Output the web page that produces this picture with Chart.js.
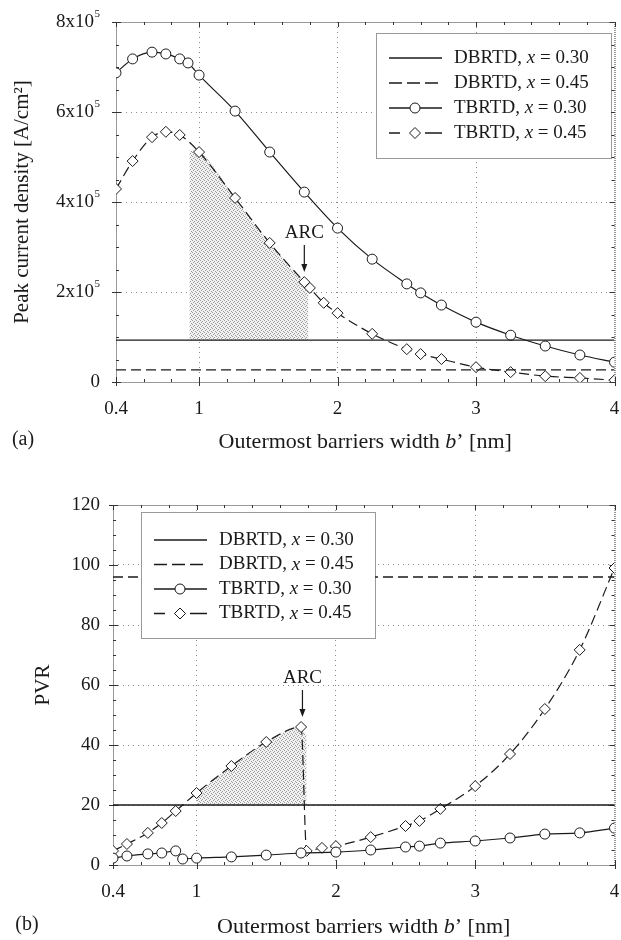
<!DOCTYPE html>
<html>
<head>
<meta charset="utf-8">
<script src="https://cdn.jsdelivr.net/npm/chart.js@4.4.0/dist/chart.umd.min.js"></script>
<style>
html, body { margin: 0; padding: 0; background: #fff; }
#wrap { position: relative; width: 621px; height: 940px; }
.panel { position: absolute; left: 0; width: 621px; height: 470px; }
</style>
</head>
<body>
<div id="wrap">
  <div class="panel" style="top:0"><canvas id="chartA" width="621" height="470"></canvas></div>
  <div class="panel" style="top:470px"><canvas id="chartB" width="621" height="470"></canvas></div>
</div>
<script>
// x axis: outermost barrier width b' (nm)
const bRange = [0.4, 4];
const xTicks = [0.4, 1, 2, 3, 4];
const xTickLabels = ['0.4', '1', '2', '3', '4'];

// legend text
const seriesNames = ['DBRTD', 'DBRTD', 'TBRTD', 'TBRTD'];
const seriesX = ['0.30', '0.45', '0.30', '0.45'];

// (a) peak current density, in units of 1e5 A/cm2
const jTicks = [0, 2, 4, 6, 8];
const jTickLabels = ['0', '2x10^5', '4x10^5', '6x10^5', '8x10^5'];
const jDb30 = 0.93;
const jDb45 = 0.27;
const bTb30a = [0.4, 0.52, 0.66, 0.76, 0.86, 0.92, 1.0, 1.26, 1.51, 1.76, 2.0, 2.25, 2.5, 2.6, 2.75, 3.0, 3.25, 3.5, 3.75, 4.0];
const jTb30 = [6.87, 7.18, 7.33, 7.29, 7.18, 7.09, 6.82, 6.02, 5.11, 4.22, 3.42, 2.73, 2.18, 1.98, 1.71, 1.33, 1.04, 0.80, 0.60, 0.44];
const bTb45a = [0.4, 0.52, 0.66, 0.76, 0.86, 1.0, 1.26, 1.51, 1.76, 1.8, 1.9, 2.0, 2.25, 2.5, 2.6, 2.75, 3.0, 3.25, 3.5, 3.75, 4.0];
const jTb45 = [4.29, 4.91, 5.44, 5.56, 5.49, 5.11, 4.09, 3.09, 2.22, 2.09, 1.76, 1.53, 1.07, 0.73, 0.62, 0.51, 0.33, 0.22, 0.13, 0.09, 0.04];
const shadeBa = [0.93, 1.0, 1.26, 1.51, 1.76, 1.79];
const shadeJa = [5.15, 5.11, 4.09, 3.09, 2.22, 2.12];
const arcA = [1.76, 2.22];

// (b) PVR
const pvrTicks = [0, 20, 40, 60, 80, 100, 120];
const pvrDb30 = 20;
const pvrDb45 = 96;
const bTb30b = [0.4, 0.5, 0.65, 0.75, 0.85, 0.9, 1.0, 1.25, 1.5, 1.75, 2.0, 2.25, 2.5, 2.6, 2.75, 3.0, 3.25, 3.5, 3.75, 4.0];
const pvrTb30 = [2.3, 3.0, 3.7, 4.0, 4.7, 2.0, 2.3, 2.7, 3.3, 4.0, 4.3, 5.0, 6.0, 6.3, 7.3, 8.0, 9.0, 10.3, 10.7, 12.3];
const bTb45b = [0.4, 0.5, 0.65, 0.75, 0.85, 1.0, 1.25, 1.5, 1.75, 1.79, 1.9, 2.0, 2.25, 2.5, 2.6, 2.75, 3.0, 3.25, 3.5, 3.75, 4.0];
const pvrTb45 = [4.7, 7.0, 10.7, 14.0, 18.0, 24.0, 33.0, 41.0, 46.0, 4.7, 5.7, 6.3, 9.3, 13.0, 14.7, 18.7, 26.3, 37.0, 52.0, 71.7, 99.0];
const shadeBb = [1.0, 1.25, 1.5, 1.75, 1.79];
const shadePb = [24.0, 33.0, 41.0, 46.0, 43.0];
const arcB = [1.76, 46.0];

const INK = '#1a1a1a';
const FONT = '"Liberation Serif", "DejaVu Serif", serif';
Chart.defaults.font.family = FONT;
Chart.defaults.color = INK;

function pts(xs, ys) {
    return xs.map((x, i) => ({ x: x, y: ys[i] }));
}

// 灰色点状填充
function stipple() {
    const c = document.createElement('canvas');
    c.width = 4; c.height = 4;
    const g = c.getContext('2d');
    g.fillStyle = '#f1f1f1';
    g.fillRect(0, 0, 4, 4);
    g.fillStyle = '#9c9c9c';
    g.fillRect(0, 0, 1, 1);
    g.fillRect(2, 1, 1, 1);
    g.fillRect(1, 2, 1, 1);
    g.fillRect(3, 3, 1, 1);
    return g.createPattern(c, 'repeat');
}

function buildDatasets(db30, db45, b30, v30, b45, v45, sb, sv) {
    return [
        { label: 'DBRTD, x = 0.30', data: pts(bRange, [db30, db30]), borderColor: INK, borderWidth: 1.3, pointRadius: 0 },
        { label: 'DBRTD, x = 0.45', data: pts(bRange, [db45, db45]), borderColor: INK, borderWidth: 1.3, borderDash: [10, 5], pointRadius: 0 },
        { label: 'TBRTD, x = 0.30', data: pts(b30, v30), borderColor: INK, borderWidth: 1.2,
          cubicInterpolationMode: 'monotone', pointStyle: 'circle', pointRadius: 5,
          pointBackgroundColor: '#fff', pointBorderColor: INK, pointBorderWidth: 1 },
        { label: 'TBRTD, x = 0.45', data: pts(b45, v45), borderColor: INK, borderWidth: 1.2, borderDash: [10, 5],
          cubicInterpolationMode: 'monotone', pointStyle: 'rectRot', pointRadius: 5.5,
          pointBackgroundColor: '#fff', pointBorderColor: INK, pointBorderWidth: 1 },
        { label: 'shade', data: pts(sb, sv), borderWidth: 0, borderColor: 'transparent', pointRadius: 0,
          cubicInterpolationMode: 'monotone', fill: { value: db30 }, backgroundColor: stipple(), order: 5 }
    ];
}

function drawMixed(ctx, parts, x, y, align, size) {
    // parts: [text, italic]
    const widths = parts.map(p => {
        ctx.font = (p[1] ? 'italic ' : '') + size + 'px ' + FONT;
        return ctx.measureText(p[0]).width;
    });
    const total = widths.reduce((s, w) => s + w, 0);
    let cx = align === 'center' ? x - total / 2 : (align === 'right' ? x - total : x);
    ctx.textAlign = 'left';
    ctx.textBaseline = 'middle';
    parts.forEach((p, i) => {
        ctx.font = (p[1] ? 'italic ' : '') + size + 'px ' + FONT;
        ctx.fillText(p[0], cx, y);
        cx += widths[i];
    });
}

const decor = {
    id: 'decor',
    beforeDatasetsDraw(chart, args, o) {
        const { ctx, chartArea: a, scales } = chart;
        ctx.save();
        ctx.strokeStyle = '#333';
        ctx.lineWidth = 1;
        ctx.setLineDash([1, 1]);
        ctx.strokeRect(a.left + 0.5, a.top + 0.5, a.right - a.left, a.bottom - a.top);
        ctx.setLineDash([]);
        ctx.beginPath();
        // x 轴刻度
        for (let k = 3; k <= 19; k++) {
            const px = Math.round(scales.x.getPixelForValue(k * 0.2)) + 0.5;
            ctx.moveTo(px, a.bottom); ctx.lineTo(px, a.bottom - 3);
            ctx.moveTo(px, a.top); ctx.lineTo(px, a.top + 3);
        }
        xTicks.forEach(v => {
            const px = Math.round(scales.x.getPixelForValue(v)) + 0.5;
            ctx.moveTo(px, a.bottom + 4); ctx.lineTo(px, a.bottom - 5);
            ctx.moveTo(px, a.top); ctx.lineTo(px, a.top + 5);
        });
        // y 轴刻度
        const y = scales.y;
        for (let v = y.min; v <= y.max + 1e-9; v += o.yMinor) {
            const py = Math.round(y.getPixelForValue(v)) + 0.5;
            ctx.moveTo(a.left, py); ctx.lineTo(a.left + 3, py);
            ctx.moveTo(a.right, py); ctx.lineTo(a.right - 3, py);
        }
        o.yMajor.forEach(v => {
            const py = Math.round(y.getPixelForValue(v)) + 0.5;
            ctx.moveTo(a.left - 4, py); ctx.lineTo(a.left + 5, py);
            ctx.moveTo(a.right, py); ctx.lineTo(a.right - 5, py);
        });
        ctx.stroke();
        // y 轴标签（带上标）
        ctx.fillStyle = INK;
        o.yMajor.forEach((v, i) => {
            const py = y.getPixelForValue(v);
            const parts = String(o.yLabels[i]).split('^');
            const rx = a.left - o.yPad;
            if (parts.length === 2) {
                ctx.font = '11px ' + FONT;
                const ew = ctx.measureText(parts[1]).width;
                ctx.textAlign = 'left';
                ctx.textBaseline = 'middle';
                ctx.fillText(parts[1], rx - ew, py - 8);
                drawMixed(ctx, [[parts[0], false]], rx - ew - 0.5, py, 'right', 19);
            } else {
                drawMixed(ctx, [[parts[0], false]], rx, py, 'right', 19);
            }
        });
        ctx.restore();
    },
    afterDatasetsDraw(chart, args, o) {
        const { ctx, chartArea: a, scales } = chart;
        ctx.save();
        // 图例
        const L = a.left + o.box[0], T = a.top + o.box[1], W = o.box[2], H = o.box[3];
        ctx.fillStyle = '#fff';
        ctx.fillRect(L, T, W, H);
        ctx.strokeStyle = '#333';
        ctx.lineWidth = 1;
        ctx.setLineDash([1, 1]);
        ctx.strokeRect(L + 0.5, T + 0.5, W, H);
        chart.data.datasets.slice(0, 4).forEach((ds, i) => {
            const yy = T + o.rowStart + i * o.rowGap;
            ctx.strokeStyle = INK;
            ctx.lineWidth = 1.3;
            ctx.beginPath();
            if (ds.borderDash && ds.pointRadius) {
                ctx.setLineDash([]);
                ctx.moveTo(L + 13, yy); ctx.lineTo(L + 24, yy);
                ctx.moveTo(L + 49, yy); ctx.lineTo(L + 66, yy);
            } else {
                ctx.setLineDash(ds.borderDash ? [13, 5] : []);
                ctx.moveTo(L + 13, yy); ctx.lineTo(L + 66, yy);
            }
            ctx.stroke();
            ctx.setLineDash([]);
            if (ds.pointRadius) {
                ctx.fillStyle = '#fff';
                ctx.lineWidth = 1;
                Chart.helpers.drawPoint(ctx, { pointStyle: ds.pointStyle, radius: ds.pointRadius, borderWidth: 1, rotation: 0 }, L + 39, yy);
            }
            ctx.fillStyle = INK;
            drawMixed(ctx, [[seriesNames[i] + ', ', false], ['x', true], [' = ' + seriesX[i], false]], L + 78, yy, 'left', 19);
        });
        // ARC 标注
        const px = scales.x.getPixelForValue(o.arc[0]);
        const py = scales.y.getPixelForValue(o.arc[1]);
        ctx.fillStyle = INK;
        ctx.strokeStyle = INK;
        ctx.lineWidth = 1.2;
        ctx.font = '19px ' + FONT;
        ctx.textAlign = 'center';
        ctx.textBaseline = 'middle';
        ctx.fillText('ARC', px, py - 49);
        ctx.beginPath();
        ctx.moveTo(px, py - 37); ctx.lineTo(px, py - 15);
        ctx.stroke();
        ctx.beginPath();
        ctx.moveTo(px, py - 10); ctx.lineTo(px - 3, py - 18); ctx.lineTo(px + 3, py - 18);
        ctx.closePath();
        ctx.fill();
        ctx.restore();
    },
    afterDraw(chart, args, o) {
        const { ctx, chartArea: a } = chart;
        ctx.save();
        ctx.fillStyle = INK;
        drawMixed(ctx, [['Outermost barriers width ', false], ['b', true], ['\u2019 [nm]', false]],
            (a.left + a.right) / 2, a.bottom + o.titleGap, 'center', 22);
        drawMixed(ctx, [[o.panel, false]], o.panelX, a.bottom + o.panelGap, 'center', 20);
        ctx.restore();
    }
};

function makeOptions(p) {
    return {
        responsive: false,
        animation: false,
        events: [],
        layout: { padding: p.padding },
        plugins: {
            legend: { display: false },
            tooltip: { enabled: false },
            decor: Object.assign({ yLabels: p.yLabels, yPad: p.yPad }, p.decor)
        },
        scales: {
            x: {
                type: 'linear',
                min: bRange[0],
                max: bRange[1],
                afterBuildTicks: s => { s.ticks = xTicks.map(v => ({ value: v })); },
                afterFit: s => { s.height = p.xHeight; s.paddingLeft = 0; s.paddingRight = 0; },
                ticks: { callback: (v, i) => xTickLabels[i], font: { size: 19 }, padding: p.xPad, maxRotation: 0, autoSkip: false },
                grid: { drawTicks: false, color: c => (c.tick && (c.tick.value === bRange[0] || c.tick.value === bRange[1])) ? 'transparent' : '#8a8a8a' },
                border: { display: false, dash: [1, 4] }
            },
            y: {
                type: 'linear',
                min: p.yTicks[0],
                max: p.yTicks[p.yTicks.length - 1],
                afterBuildTicks: s => { s.ticks = p.yTicks.map(v => ({ value: v })); },
                afterFit: s => { s.width = p.yWidth; s.paddingTop = 0; s.paddingBottom = 0; },
                ticks: { callback: () => '', font: { size: 19 }, padding: p.yPad },
                grid: { drawTicks: false, color: c => (c.tick && (c.tick.value === p.yTicks[0] || c.tick.value === p.yTicks[p.yTicks.length - 1])) ? 'transparent' : '#8a8a8a' },
                border: { display: false, dash: [1, 4] },
                title: { display: true, text: p.yTitle, font: { size: 21 }, padding: { top: p.yTitlePad, bottom: 0 } }
            }
        }
    };
}

new Chart(document.getElementById('chartA'), {
    type: 'line',
    data: { datasets: buildDatasets(jDb30, jDb45, bTb30a, jTb30, bTb45a, jTb45, shadeBa, shadeJa) },
    options: makeOptions({
        padding: { left: 0, top: 22, right: 1, bottom: 0 },
        xHeight: 88, yWidth: 116, xPad: 16, yPad: 16, yTitlePad: 10,
        yTicks: jTicks, yLabels: jTickLabels,
        yTitle: 'Peak current density [A/cm²]',
        decor: { yMinor: 0.5, yMajor: jTicks, box: [260, 11, 235, 125], rowStart: 25, rowGap: 25,
                 arc: arcA, panel: '(a)', panelX: 23, panelGap: 58, titleGap: 60 }
    }),
    plugins: [decor]
});

new Chart(document.getElementById('chartB'), {
    type: 'line',
    data: { datasets: buildDatasets(pvrDb30, pvrDb45, bTb30b, pvrTb30, bTb45b, pvrTb45, shadeBb, shadePb) },
    options: makeOptions({
        padding: { left: 0, top: 35, right: 4, bottom: 0 },
        xHeight: 75, yWidth: 113, xPad: 16, yPad: 13, yTitlePad: 31,
        yTicks: pvrTicks, yLabels: pvrTicks.map(String),
        yTitle: 'PVR',
        decor: { yMinor: 5, yMajor: pvrTicks, box: [28, 7, 234, 126], rowStart: 28, rowGap: 24.5,
                 arc: arcB, panel: '(b)', panelX: 27, panelGap: 60, titleGap: 62 }
    }),
    plugins: [decor]
});
</script>
</body>
</html>
